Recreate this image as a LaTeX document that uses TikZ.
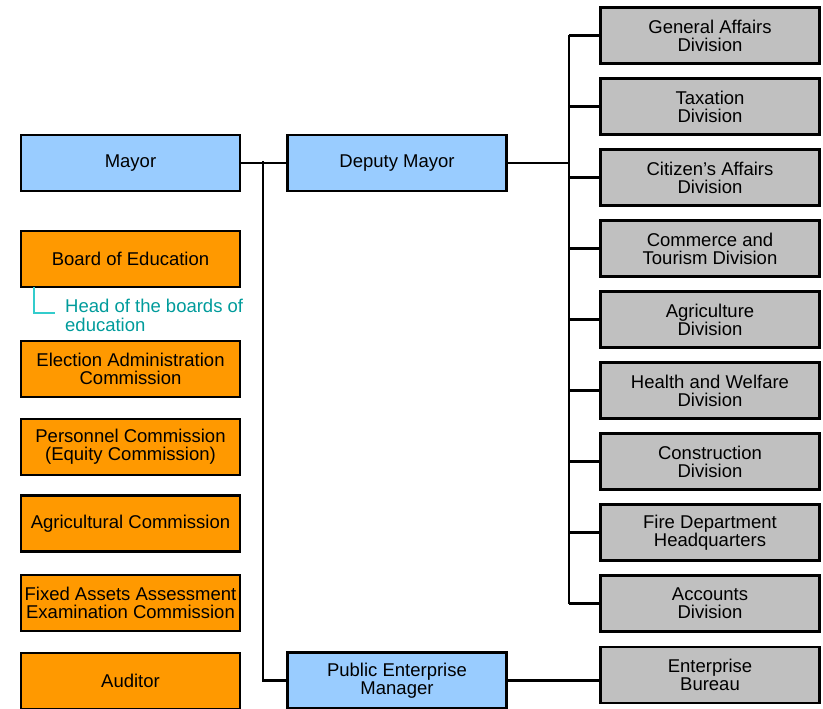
\documentclass[tikz,border=0pt]{standalone}
\usepackage{fontspec}
\setmainfont{Liberation Sans}
\definecolor{lblue}{HTML}{99CCFF}
\definecolor{orng}{HTML}{FF9900}
\definecolor{gry}{HTML}{C0C0C0}
\definecolor{tealtxt}{HTML}{009B9B}
\definecolor{tealline}{HTML}{33CCCC}
\begin{document}
\begin{tikzpicture}[x=1pt,y=-1pt,
  box/.style={draw=black, line width=2.5pt, minimum width=219pt, minimum height=56pt, inner sep=0pt, align=center, font=\fontsize{18.5}{18}\selectfont},
  bluebox/.style={box, fill=lblue},
  orbox/.style={box, fill=orng},
  grbox/.style={box, fill=gry},
  conn/.style={draw=black, line width=2.2pt}]
\useasboundingbox (0,0) rectangle (823,709);
% middle column
\node[bluebox] (mayor) at (130.5,163) {Mayor};
\node[bluebox] (deputy) at (397,163) {Deputy Mayor};
\node[bluebox] (pem) at (397,680.5) {Public Enterprise\\Manager};
% left column
\node[orbox] (boe) at (130.5,259) {Board of Education};
\node[orbox] (eac) at (130.5,369) {Election Administration\\Commission};
\node[orbox] (pc) at (130.5,447) {Personnel Commission\\(Equity Commission)};
\node[orbox] (ac) at (130.5,523.5) {Agricultural Commission};
\node[orbox] (fa) at (130.5,603) {Fixed Assets Assessment\\Examination Commission};
\node[orbox] (aud) at (130.5,681) {Auditor};
% right column
\node[grbox] (ga) at (710,35.5) {General Affairs\\Division};
\node[grbox] (tax) at (710,106.5) {Taxation\\Division};
\node[grbox] (cit) at (710,177.5) {Citizen's Affairs\\Division};
\node[grbox] (com) at (710,248.5) {Commerce and\\Tourism Division};
\node[grbox] (agr) at (710,319.5) {Agriculture\\Division};
\node[grbox] (hw) at (710,390.5) {Health and Welfare\\Division};
\node[grbox] (con) at (710,461.5) {Construction\\Division};
\node[grbox] (fire) at (710,532.5) {Fire Department\\Headquarters};
\node[grbox] (acc) at (710,603.5) {Accounts\\Division};
\node[grbox] (eb) at (710,675) {Enterprise\\Bureau};
% head of boards annotation
\coordinate (hb1) at (34,287);
\coordinate (hb2) at (55,313);
\draw[tealline, line width=2pt] (hb1) |- (hb2);
\node[anchor=north west, inner sep=0pt, align=left, text=tealtxt, font=\fontsize{18.5}{19}\selectfont] (hbt) at (65,299) {Head of the boards of\\education};
% connectors
\draw[conn] (mayor.east) -- (deputy.west);
\coordinate (lsp) at (263,161);
\draw[conn] (lsp) |- (pem.west);
\coordinate (rspT) at (569,35.5);
\coordinate (rspB) at (569,603.5);
\draw[conn] (rspT) -- (rspB);
\draw[conn] (deputy.east) -- (deputy.east -| rspT);
\foreach \n in {ga,tax,cit,com,agr,hw,con,fire,acc}
  \draw[conn] (\n.west) -- (\n.west -| rspT);
\draw[conn] (pem.east) -- (eb.west |- pem.east);
\end{tikzpicture}
\end{document}
